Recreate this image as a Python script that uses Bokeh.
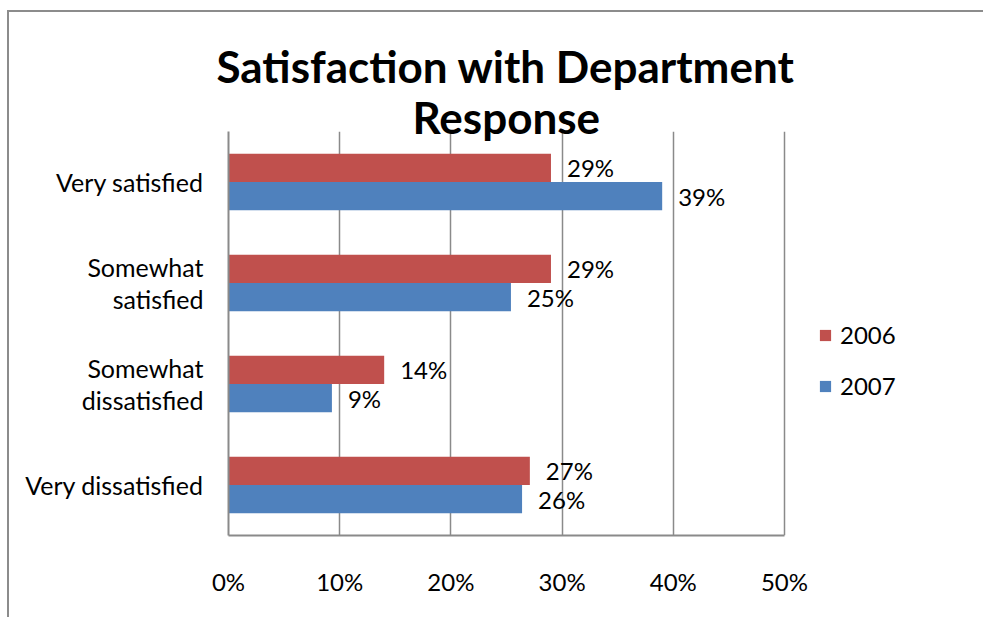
from bokeh.plotting import figure
from bokeh.models import (ColumnDataSource, Range1d, FixedTicker,
                          PrintfTickFormatter, CustomJSTickFormatter, Legend, LegendItem, Title)
from bokeh.core.properties import value
from bokeh.embed import file_html
from bokeh.resources import INLINE

# ---- data ----
categories = ["Very satisfied", "Somewhat satisfied", "Somewhat dissatisfied", "Very dissatisfied"]
category_lines = [["Very satisfied"], ["Somewhat", "satisfied"], ["Somewhat", "dissatisfied"], ["Very dissatisfied"]]
v2006 = [29.0, 29.0, 14.0, 27.1]
v2007 = [39.0, 25.4, 9.3, 26.4]
labels2006 = ["29%", "29%", "14%", "27%"]
labels2007 = ["39%", "25%", "9%", "26%"]
x_ticks = [0, 10, 20, 30, 40, 50]
series_names = ["2006", "2007"]
title_lines = ["Satisfaction with Department", "Response"]

FONT = "Lato"
RED = "#C0504D"
BLUE = "#4F81BD"
GRID = "#8a8a8a"
FS = "24px"

# ---- layout (pixels) ----
W, H = 976, 607
LEFT, TOP, BOTTOM = 219, 119, 84
AXIS_PX = 556            # width of the 0..50 % value axis
FRAME_W = W - LEFT       # frame extends right to hold the legend
X_MAX = x_ticks[-1]
x_end = X_MAX * FRAME_W / AXIS_PX

# category slots: first category on top
n = len(categories)
BAR_H = 0.28
centres = [n - 1 - k + 0.5 for k in range(n)]
y06 = [c + BAR_H / 2 for c in centres]
y07 = [c - BAR_H / 2 for c in centres]

src = ColumnDataSource(data=dict(cat=categories, y06=y06, y07=y07, v2006=v2006, v2007=v2007,
                                 l2006=labels2006, l2007=labels2007))

p = figure(width=W, height=H, output_backend="svg", toolbar_location=None,
           y_range=Range1d(0, n), x_range=Range1d(0, x_end),
           min_border_left=LEFT, min_border_right=0, min_border_top=TOP, min_border_bottom=BOTTOM)
p.styles = {"margin-left": "7px", "margin-top": "10px",
            "border-left": "2px solid #8c8c8c", "border-top": "2px solid #8c8c8c"}

p.outline_line_color = None
p.background_fill_color = "white"
p.border_fill_color = "white"

# title: two lines, each centred over the 0..50 % area
p.title.text = title_lines[0]
p.title.align = "left"
p.title.vertical_align = "top"
p.title.offset = -12
p.title.text_font = FONT
p.title.text_font_size = "44px"
p.title.text_font_style = "bold"
p.title.text_color = "black"
p.title.standoff = 11
t2 = Title(text=title_lines[1], align="left", offset=184, text_font=FONT,
           text_font_size="44px", text_font_style="bold", text_color="black", standoff=-22)
p.add_layout(t2, "above")

# bars
r06 = p.hbar(y="y06", right="v2006", left=0, height=BAR_H,
             source=src, fill_color=RED, line_color=None)
r07 = p.hbar(y="y07", right="v2007", left=0, height=BAR_H,
             source=src, fill_color=BLUE, line_color=None)

# value labels
p.text(x="v2006", y="y06", text="l2006", source=src,
       x_offset=16, text_align="left", text_baseline="middle",
       text_font=value(FONT), text_font_size=FS, text_color="black")
p.text(x="v2007", y="y07", text="l2007", source=src,
       x_offset=16, text_align="left", text_baseline="middle",
       text_font=value(FONT), text_font_size=FS, text_color="black")

# x axis
p.xaxis.ticker = FixedTicker(ticks=x_ticks)
p.xaxis.bounds = (0, X_MAX)
p.xaxis.formatter = PrintfTickFormatter(format="%d%%")
p.xaxis.major_tick_line_color = None
p.xaxis.minor_tick_line_color = None
p.xaxis.axis_line_color = GRID
p.xaxis.axis_line_width = 2
p.xaxis.major_label_standoff = 25
p.xaxis.major_label_text_font = FONT
p.xaxis.major_label_text_font_size = FS
p.xaxis.major_label_text_color = "black"

# category axis: one tick per label line so two-line labels wrap
LINE_STEP = 0.307
tick_pos, tick_lab = [], []
for k, lines in enumerate(category_lines):
    m = len(lines)
    for j, line in enumerate(lines):
        tick_pos.append(centres[k] + ((m - 1) / 2 - j) * LINE_STEP)
        tick_lab.append(line)
order = sorted(range(len(tick_pos)), key=lambda i: tick_pos[i])
tick_pos = [tick_pos[i] for i in order]
tick_lab = [tick_lab[i] for i in order]

p.yaxis.ticker = FixedTicker(ticks=tick_pos)
p.yaxis.formatter = CustomJSTickFormatter(args=dict(pos=tick_pos, labs=tick_lab), code="""
    for (let i = 0; i < pos.length; i++) { if (Math.abs(pos[i] - tick) < 1e-6) return labs[i]; }
    return "";
""")
p.yaxis.major_tick_line_color = None
p.yaxis.minor_tick_line_color = None
p.yaxis.axis_line_color = GRID
p.yaxis.axis_line_width = 2
p.yaxis.major_label_standoff = 19
p.yaxis.major_label_text_font = FONT
p.yaxis.major_label_text_font_size = "25px"
p.yaxis.major_label_text_color = "black"

p.xgrid.ticker = FixedTicker(ticks=x_ticks)
p.xgrid.grid_line_color = GRID
p.xgrid.grid_line_width = 1.5
p.ygrid.grid_line_color = None

legend = Legend(items=[LegendItem(label=series_names[0], renderers=[r06]),
                       LegendItem(label=series_names[1], renderers=[r07])],
                location=(590, 135), orientation="vertical",
                glyph_width=14, glyph_height=14, label_standoff=8, spacing=22,
                label_height=24, padding=0, margin=0,
                border_line_color=None, background_fill_alpha=0,
                label_text_font=FONT, label_text_font_size=FS, label_text_color="black")
p.add_layout(legend, "center")

open("out.html", "w").write(file_html(p, INLINE))
